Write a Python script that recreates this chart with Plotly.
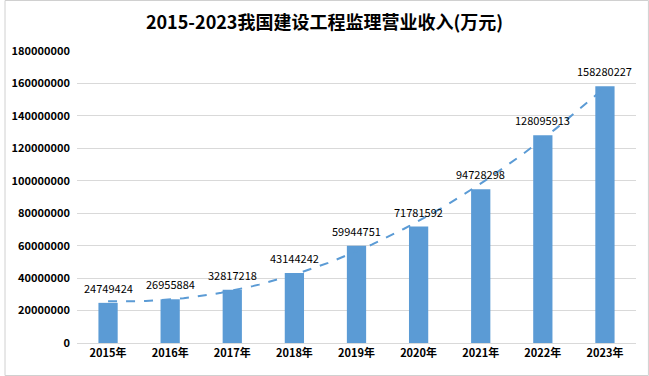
import numpy as np
import plotly.graph_objects as go

years = ["2015年", "2016年", "2017年", "2018年", "2019年", "2020年", "2021年", "2022年", "2023年"]
revenue = [24749424, 26955884, 32817218, 43144242, 59944751, 71781592, 94728298, 128095913, 158280227]
y_ticks = list(range(0, 180000001, 20000000))

# Excel-style polynomial (order 2) trend line computed from the data
idx = np.arange(len(revenue))
coef = np.polyfit(idx, revenue, 2)
xs = np.linspace(0, len(revenue) - 1, 80)
trend = np.polyval(coef, xs)

FONT = "Noto Sans CJK SC, Liberation Sans, sans-serif"

fig = go.Figure()
fig.add_trace(go.Bar(
    x=list(idx), y=revenue, width=0.31,
    marker=dict(color="#5B9BD5", line=dict(width=0)),
    showlegend=False,
))
fig.add_trace(go.Scatter(
    x=xs, y=trend, mode="lines",
    line=dict(color="#5B9BD5", width=2, dash="dash"),
    showlegend=False, hoverinfo="skip",
))

annotations = [dict(x=int(i), y=v, xref="x", yref="y", text=str(v), showarrow=False,
                    yanchor="bottom", yshift=5,
                    font=dict(size=11, color="#000000", family=FONT))
               for i, v in zip(idx, revenue)]

fig.update_layout(
    width=649, height=376,
    margin=dict(l=73, r=13, t=51, b=33),
    paper_bgcolor="white", plot_bgcolor="white",
    title=dict(text="<b>2015-2023我国建设工程监理营业收入(万元)</b>", x=0.5, xanchor="center",
               y=0.94, yanchor="middle",
               font=dict(size=18, color="#000000", family=FONT)),
    annotations=annotations,
    xaxis=dict(tickmode="array", tickvals=list(idx), ticktext=["<b>%s</b>" % y for y in years],
               range=[-0.5, len(years) - 0.5], showgrid=False, zeroline=False,
               showline=True, linecolor="#D9D9D9", linewidth=1,
               tickfont=dict(size=11, color="#000000", family=FONT), ticks=""),
    yaxis=dict(range=[0, 180000000], tickvals=y_ticks, ticktext=["<b>%d</b>" % v for v in y_ticks],
               showgrid=True, gridcolor="#D9D9D9", gridwidth=1, zeroline=False,
               tickfont=dict(size=11, color="#000000", family=FONT), ticks="",
               ticklabelstandoff=6),
    shapes=[dict(type="rect", xref="paper", yref="paper",
                 x0=-72.5 / 563, x1=1 + 12.5 / 563, y0=-32.5 / 292, y1=1 + 50.5 / 292,
                 line=dict(color="#D0D0D0", width=1), fillcolor="rgba(0,0,0,0)", layer="below")],
)

fig.write_html("out.html")
